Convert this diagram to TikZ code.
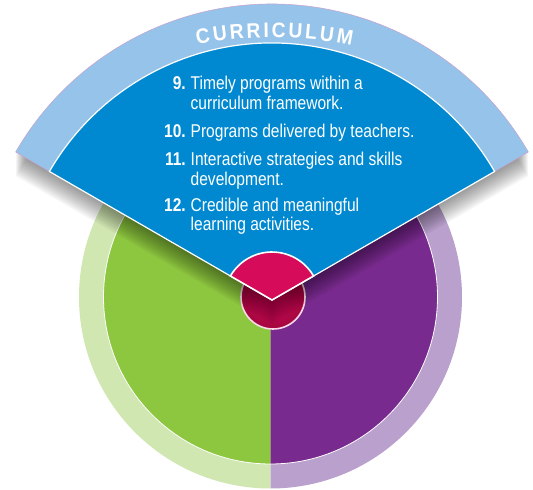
\documentclass[tikz,border=0pt]{standalone}
\usepackage{fontspec}
\setmainfont{Liberation Sans}
\newfontfamily\condfont[FakeStretch=0.84]{Liberation Sans}
\newfontfamily\headfont[FakeStretch=0.92]{Liberation Sans}
\definecolor{fanblue}{HTML}{0089D0}
\definecolor{bandblue}{HTML}{95C3E9}
\definecolor{leafgreen}{HTML}{8DC63F}
\definecolor{palegreen}{HTML}{D1E7B2}
\definecolor{deeppurple}{HTML}{782A8E}
\definecolor{palepurple}{HTML}{B9A0CD}
\definecolor{mag}{HTML}{D60B5A}
\definecolor{magdark}{HTML}{A3063F}
\definecolor{bandline}{HTML}{C8A2CF}
\begin{document}
\begin{tikzpicture}[x=1pt,y=1pt,
  itemtext/.style={anchor=base west, text=white, inner sep=0pt, font=\condfont\fontsize{18.5}{19}\selectfont},
  itemnum/.style={anchor=base east, text=white, inner sep=0pt, font=\condfont\bfseries\fontsize{18.5}{19}\selectfont},
  letterstyle/.style={anchor=base, text=white, inner sep=0pt, font=\headfont\bfseries\fontsize{21}{21}\selectfont}]
\useasboundingbox (0,0) rectangle (533,490);
\coordinate (C) at (270.5,193);
\coordinate (A) at (272,190);
\coordinate (T) at (272,52.5);
% outer ring halves
\fill[palegreen] (C) ++(90:191.5) arc[start angle=90,end angle=270,radius=191.5] -- cycle;
\fill[palepurple] (C) ++(-90:191.5) arc[start angle=-90,end angle=90,radius=191.5] -- cycle;
% inner disc halves
\fill[leafgreen] (C) ++(90:167) arc[start angle=90,end angle=270,radius=167] -- cycle;
\fill[deeppurple] (C) ++(-90:167) arc[start angle=-90,end angle=90,radius=167] -- cycle;
\draw[white,line width=0.8pt] (C) circle[radius=167];
% magenta circle
\shade[inner color=mag, outer color=magdark] (273,193) circle[radius=32];
\draw[white!85!mag,line width=1.6pt] (273,193) circle[radius=32];
% shadow of the fan
\foreach \d in {2,4,...,24}{
  \fill[black,opacity=0.04] ([yshift=-\d pt]A) -- ++(30:296) arc[start angle=30,end angle=150,radius=296] -- cycle;
}
% fan
\fill[bandblue] (A) -- ++(30:296) arc[start angle=30,end angle=150,radius=296] -- cycle;
\draw[bandline,line width=0.5pt] (A) ++(30:257) -- ++(30:39) arc[start angle=30,end angle=150,radius=296] -- ++(-30:39);
\filldraw[fill=fanblue,draw=white,line width=1.2pt] (A) -- ++(30:257) arc[start angle=30,end angle=150,radius=257] -- cycle;
% magenta cap
\filldraw[fill=mag,draw=white,line width=1.6pt,line join=miter] (A) -- ++(30:48) arc[start angle=30,end angle=150,radius=48] -- cycle;
% heading letters
\foreach \l/\a [count=\i] in {C/99.78, U/97.37, R/94.98, R/92.59, I/90.83, C/89.07, U/86.69, L/84.46, U/82.22, M/79.65}{
  \node[letterstyle, rotate=\a-90] (let\i) at ([shift={(\a:400)}]T) {\l};
}
% items
\node[itemnum] (n9) at (186,400.5) {9.};
\node[itemtext] (t9a) at (190.5,400.5) {Timely programs within a};
\node[itemtext] (t9b) at (190.5,380.5) {curriculum framework.};
\node[itemnum] (n10) at (186,352.5) {10.};
\node[itemtext] (t10) at (190.5,352.5) {Programs delivered by teachers.};
\node[itemnum] (n11) at (186,324) {11.};
\node[itemtext] (t11a) at (190.5,324) {Interactive strategies and skills};
\node[itemtext] (t11b) at (190.5,304.5) {development.};
\node[itemnum] (n12) at (186,278) {12.};
\node[itemtext] (t12a) at (190.5,278) {Credible and meaningful};
\node[itemtext] (t12b) at (190.5,259) {learning activities.};
\end{tikzpicture}
\end{document}
